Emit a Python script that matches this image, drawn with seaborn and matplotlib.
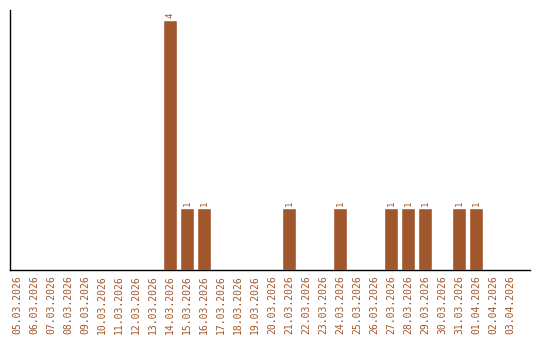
import matplotlib
matplotlib.use("Agg")
import matplotlib.pyplot as plt
import seaborn as sns
import pandas as pd

dates = ["05.03.2026", "06.03.2026", "07.03.2026", "08.03.2026", "09.03.2026",
         "10.03.2026", "11.03.2026", "12.03.2026", "13.03.2026", "14.03.2026",
         "15.03.2026", "16.03.2026", "17.03.2026", "18.03.2026", "19.03.2026",
         "20.03.2026", "21.03.2026", "22.03.2026", "23.03.2026", "24.03.2026",
         "25.03.2026", "26.03.2026", "27.03.2026", "28.03.2026", "29.03.2026",
         "30.03.2026", "31.03.2026", "01.04.2026", "02.04.2026", "03.04.2026"]
counts = [0, 0, 0, 0, 0, 0, 0, 0, 0, 4,
          1, 1, 0, 0, 0, 0, 1, 0, 0, 1,
          0, 0, 1, 1, 1, 0, 1, 1, 0, 0]

color = "#A0572B"
df = pd.DataFrame({"date": dates, "count": counts})

sns.set_style("white")
plt.rcParams['font.family'] = ['DejaVu Sans Mono', 'DejaVu Sans']

fig = plt.figure(figsize=(5.4, 3.4), dpi=100)
ax = fig.add_axes([10/540, 70/340, 520/540, 260/340])
sns.barplot(data=df, x="date", y="count", color=color, width=0.82,
            saturation=1, ax=ax)

for i, v in enumerate(counts):
    if v > 0:
        ax.text(i, v + 0.03, str(v), rotation=90, ha="center", va="bottom",
                color=color, fontsize=6.5)

ax.set_xlim(-0.41, 30.18)
ax.set_ylim(0, 4.16)
ax.set_yticks([])
ax.set_xlabel("")
ax.set_ylabel("")
ax.tick_params(axis="x", length=0, pad=4, labelsize=7, labelcolor=color,
               rotation=90)
for lab in ax.get_xticklabels():
    lab.set_va("top")
sns.despine(ax=ax, top=True, right=True)
ax.spines["left"].set_color("black")
ax.spines["bottom"].set_color("black")
ax.spines["left"].set_linewidth(1)
ax.spines["bottom"].set_linewidth(1)

fig.savefig("out.png", dpi=100)
